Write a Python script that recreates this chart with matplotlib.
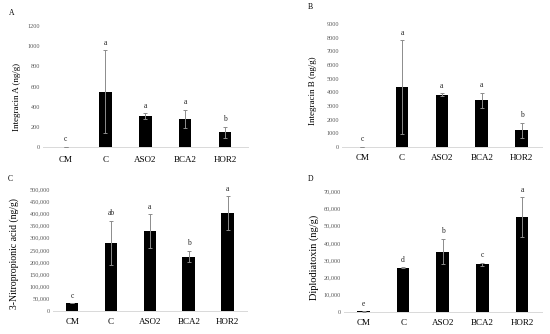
import matplotlib
matplotlib.use("Agg")
import matplotlib.pyplot as plt
from matplotlib.ticker import FuncFormatter

categories = ['CM', 'C', 'ASO2', 'BCA2', 'HOR2']

a_vals = [0, 550, 307, 278, 145]
a_err = [0, 410, 30, 90, 55]
a_letters = ['c', 'a', 'a', 'a', 'b']

b_vals = [0, 4380, 3840, 3420, 1220]
b_err = [0, 3430, 90, 560, 540]
b_letters = ['c', 'a', 'a', 'a', 'b']

c_vals = [31000, 280000, 328000, 223000, 401000]
c_err = [0, 90000, 68000, 24000, 70000]
c_letters = ['c', 'ab', 'a', 'b', 'a']

d_vals = [300, 25500, 35000, 27600, 54800]
d_err = [150, 300, 7300, 1000, 11500]
d_letters = ['e', 'd', 'b', 'c', 'a']

SERIF = ['Liberation Serif', 'DejaVu Serif']
plt.rcParams['font.family'] = SERIF

fig = plt.figure(figsize=(5.5, 3.34), dpi=100)

panels = [
    dict(pos=[0.078, 0.560, 0.373, 0.362], vals=a_vals, err=a_err, let=a_letters,
         ylim=1200, step=200, comma=False, ylabel='Integracin A (ng/g)', tag='A',
         tagxy=(0.016, 0.962), xlim=(-0.57, 4.58), lfs=6.5, lc=(-0.107, 0.41), xpad=6.5),
    dict(pos=[0.622, 0.560, 0.363, 0.368], vals=b_vals, err=b_err, let=b_letters,
         ylim=9000, step=1000, comma=False, ylabel='Integracin B (ng/g)', tag='B',
         tagxy=(0.560, 0.978), xlim=(-0.5, 4.5), lfs=6.5, lc=(-0.125, 0.455), xpad=5),
    dict(pos=[0.096, 0.069, 0.353, 0.365], vals=c_vals, err=c_err, let=c_letters,
         ylim=500000, step=50000, comma=True, ylabel='3-Nitropropionic acid (ng/g)', tag='C',
         tagxy=(0.014, 0.463), xlim=(-0.5, 4.5), lfs=7.0, lc=(-0.175, 0.467), xpad=5),
    dict(pos=[0.625, 0.066, 0.360, 0.362], vals=d_vals, err=d_err, let=d_letters,
         ylim=70000, step=10000, comma=True, ylabel='Diplodiatoxin (ng/g)', tag='D',
         tagxy=(0.560, 0.463), xlim=(-0.5, 4.5), lfs=7.4, lc=(-0.126, 0.455), xpad=5),
]

x = list(range(len(categories)))
for p in panels:
    ax = fig.add_axes(p['pos'])
    ax.bar(x, p['vals'], width=0.32, color='black', zorder=2)
    ax.errorbar(x, p['vals'], yerr=p['err'], fmt='none', ecolor='#8c8c8c',
                elinewidth=0.7, capsize=1.2, capthick=0.7, zorder=3)
    for xi, v, e, l in zip(x, p['vals'], p['err'], p['let']):
        ax.annotate(l, (xi, v + e), xytext=(0, 2.5), textcoords='offset points',
                    ha='center', va='bottom', fontsize=5.5, color='#262626')
    ax.set_xlim(*p['xlim'])
    ax.set_ylim(0, p['ylim'])
    ticks = list(range(0, p['ylim'] + 1, p['step']))
    ax.set_yticks(ticks)
    if p['comma']:
        ax.yaxis.set_major_formatter(FuncFormatter(lambda v, pos: f"{int(v):,}"))
    else:
        ax.yaxis.set_major_formatter(FuncFormatter(lambda v, pos: f"{int(v)}"))
    ax.set_xticks(x)
    ax.set_xticklabels(categories, fontsize=6.5, color='#000000')
    ax.tick_params(axis='y', labelsize=4.5, length=0, pad=2, labelcolor='#595959')
    ax.tick_params(axis='x', length=0, pad=p['xpad'])
    for s in ['top', 'right', 'left']:
        ax.spines[s].set_visible(False)
    ax.spines['bottom'].set_color('#d9d9d9')
    ax.spines['bottom'].set_linewidth(0.7)
    ax.set_ylabel(p['ylabel'], fontsize=p['lfs'])
    ax.yaxis.set_label_coords(*p['lc'])
    ax.patch.set_alpha(0)
    fig.text(p['tagxy'][0], p['tagxy'][1], p['tag'], fontsize=5.5, ha='left', va='center')

fig.savefig('out.png', dpi=100)
